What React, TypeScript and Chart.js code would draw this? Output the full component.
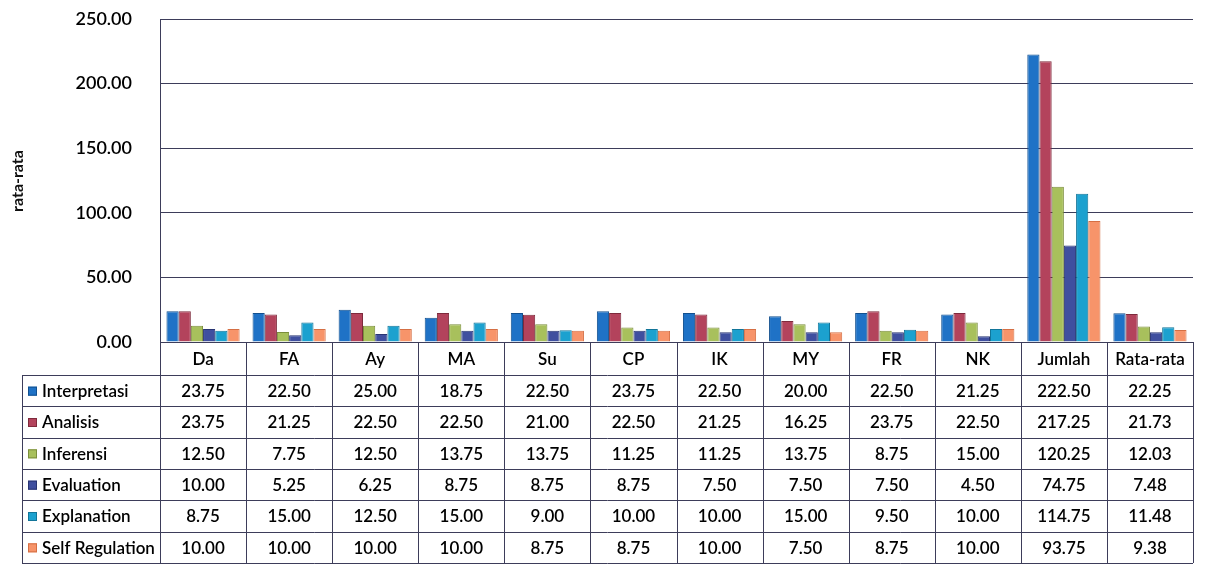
import React, { useEffect, useRef } from "react";
import { Chart, registerables } from "chart.js";

Chart.register(...registerables);

const categories = ["Da", "FA", "Ay", "MA", "Su", "CP", "IK", "MY", "FR", "NK", "Jumlah", "Rata-rata"];
const interpretasi = [23.75, 22.5, 25.0, 18.75, 22.5, 23.75, 22.5, 20.0, 22.5, 21.25, 222.5, 22.25];
const analisis = [23.75, 21.25, 22.5, 22.5, 21.0, 22.5, 21.25, 16.25, 23.75, 22.5, 217.25, 21.73];
const inferensi = [12.5, 7.75, 12.5, 13.75, 13.75, 11.25, 11.25, 13.75, 8.75, 15.0, 120.25, 12.03];
const evaluation = [10.0, 5.25, 6.25, 8.75, 8.75, 8.75, 7.5, 7.5, 7.5, 4.5, 74.75, 7.48];
const explanation = [8.75, 15.0, 12.5, 15.0, 9.0, 10.0, 10.0, 15.0, 9.5, 10.0, 114.75, 11.48];
const selfRegulation = [10.0, 10.0, 10.0, 10.0, 8.75, 8.75, 10.0, 7.5, 8.75, 10.0, 93.75, 9.38];

const seriesNames = ["Interpretasi", "Analisis", "Inferensi", "Evaluation", "Explanation", "Self Regulation"];
const seriesValues = [interpretasi, analisis, inferensi, evaluation, explanation, selfRegulation];
const seriesColors = ["#1f72c6", "#b3435c", "#a8c05c", "#3f4f9f", "#1ca1cf", "#f7946a"];
const seriesBorders = ["#12508f", "#7e2a3c", "#7b8e3c", "#283472", "#127599", "#d56f44"];

const yTicks = [0, 50, 100, 150, 200, 250];
const yTitle = "rata-rata";

const FONT = "Lato, 'Open Sans', sans-serif";
const LINE = "#3d3d5a";

const tablePlugin = {
  id: "dataTable",
  afterDraw(chart: any) {
    const ctx = chart.ctx as CanvasRenderingContext2D;
    const x = chart.scales.x;
    const area = chart.chartArea;
    const n = categories.length;
    const colW = (area.right - area.left) / n;
    const headerTop = area.bottom;
    const headerBottom = headerTop + 33;
    const tableBottom = 563;
    const rowH = (tableBottom - headerBottom) / seriesNames.length;
    const labelLeft = 22;

    ctx.save();
    ctx.save();
    ctx.translate(18, 181);
    ctx.rotate(-Math.PI / 2);
    ctx.font = `bold 16px ${FONT}`;
    ctx.fillStyle = "#111";
    ctx.textAlign = "center";
    ctx.textBaseline = "middle";
    ctx.fillText(yTitle, 0, 0);
    ctx.restore();

    ctx.strokeStyle = LINE;
    ctx.lineWidth = 1;
    for (let i = 0; i <= n; i++) {
      const px = Math.round(area.left + i * colW) + 0.5;
      ctx.beginPath();
      ctx.moveTo(px, headerTop);
      ctx.lineTo(px, tableBottom);
      ctx.stroke();
    }
    ctx.beginPath();
    ctx.moveTo(labelLeft + 0.5, headerBottom);
    ctx.lineTo(labelLeft + 0.5, tableBottom);
    ctx.stroke();
    ctx.beginPath();
    ctx.moveTo(area.left, Math.round(headerTop) + 0.5);
    ctx.lineTo(area.right, Math.round(headerTop) + 0.5);
    ctx.stroke();
    for (let r = 0; r <= seriesNames.length; r++) {
      const py = Math.round(headerBottom + r * rowH) + 0.5;
      ctx.beginPath();
      ctx.moveTo(labelLeft, py);
      ctx.lineTo(area.right, py);
      ctx.stroke();
    }

    ctx.fillStyle = "#000";
    ctx.font = `600 17px ${FONT}`;
    ctx.textBaseline = "middle";
    ctx.textAlign = "center";
    categories.forEach((c, i) => {
      ctx.fillText(c, x.getPixelForValue(i), (headerTop + headerBottom) / 2 + 1);
    });

    seriesNames.forEach((name, r) => {
      const cy = headerBottom + r * rowH + rowH / 2 + 1;
      ctx.fillStyle = seriesColors[r];
      ctx.fillRect(28, cy - 5, 9, 9);
      ctx.strokeStyle = seriesBorders[r];
      ctx.strokeRect(28.5, cy - 4.5, 8, 8);
      ctx.fillStyle = "#000";
      ctx.textAlign = "left";
      ctx.fillText(name, 42, cy);
      ctx.textAlign = "center";
      seriesValues[r].forEach((v, i) => {
        ctx.fillText(v.toFixed(2), x.getPixelForValue(i), cy);
      });
    });
    ctx.restore();
  },
};

export default function App() {
  const ref = useRef<HTMLCanvasElement | null>(null);

  useEffect(() => {
    document.body.style.margin = "0";
    document.body.style.background = "#ffffff";
    if (!ref.current) return;
    const chart = new Chart(ref.current, {
      type: "bar",
      data: {
        labels: categories,
        datasets: seriesNames.map((name, i) => ({
          label: name,
          data: seriesValues[i],
          backgroundColor: seriesColors[i],
          borderColor: seriesBorders[i],
          borderWidth: 1,
          categoryPercentage: 0.85,
          barPercentage: 1.0,
        })),
      },
      options: {
        responsive: false,
        animation: false,
        layout: { padding: { left: 0, right: 20, top: 19, bottom: 231 } },
        plugins: {
          legend: { display: false },
          tooltip: { enabled: false },
        },
        scales: {
          x: { display: false },
          y: {
            min: 0,
            max: 250,
            afterBuildTicks(scale: any) {
              scale.ticks = yTicks.map((v) => ({ value: v }));
            },
            afterFit(scale: any) {
              scale.width = 160;
              scale.paddingTop = 0;
              scale.paddingBottom = 0;
            },
            grid: { color: LINE, lineWidth: 1, drawTicks: false },
            border: { display: true, color: LINE, width: 1 },
            ticks: {
              padding: 28,
              color: "#000",
              font: { family: FONT, size: 18, weight: "600" },
              callback: (v: any) => Number(v).toFixed(2),
            },
          },
        },
      },
      plugins: [tablePlugin],
    });
    return () => chart.destroy();
  }, []);

  return (
    <div style={{ position: "absolute", left: 0, top: 0, width: 1213, height: 573, background: "#fff" }}>
      <canvas ref={ref} width={1213} height={573} />
    </div>
  );
}
